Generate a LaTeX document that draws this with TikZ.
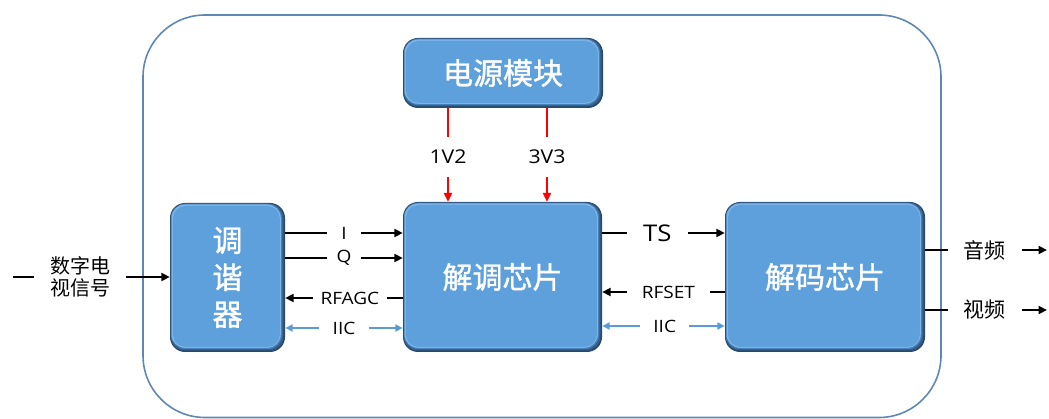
\documentclass[tikz,border=0pt]{standalone}
\usepackage{fontspec}
\newfontfamily\cjk{Noto Sans CJK SC}
\newfontfamily\cjkbox[FakeBold=1.2]{Noto Sans CJK SC}
\newfontfamily\lab[FakeStretch=1.12]{Open Sans}
\usetikzlibrary{arrows.meta}

\definecolor{boxblue}{HTML}{5DA0DC}
\definecolor{bevelA}{HTML}{28496B}
\definecolor{bevelB}{HTML}{365F8A}
\definecolor{bevelC}{HTML}{4880B8}
\definecolor{bevelRim}{HTML}{7CB4E6}
\definecolor{framec}{HTML}{5E88B4}
\definecolor{iicblue}{HTML}{5B9BD5}
\definecolor{pwrred}{HTML}{FF0000}

% inset rounded layer inside a block: #1 nw shift, #2 se shift, #3 radius, #4 colour
\newcommand\bevellayer[4]{%
  \fill[#4, rounded corners=#3]
    ([shift={(#1pt,-#1pt)}]path picture bounding box.north west) rectangle
    ([shift={(-#2pt,#2pt)}]path picture bounding box.south east);}

\tikzset{
  x=1pt, y=-1pt,
  frame/.style={draw=framec, line width=1.6pt, rounded corners=62pt},
  block/.style={rounded corners=15pt, fill=bevelA,
    text=white, align=center, inner sep=0pt,
    font=\cjkbox\fontsize{30}{37}\selectfont,
    path picture={
      \bevellayer{0.5}{1.5}{14.5pt}{bevelB}
      \bevellayer{1}{3}{14pt}{bevelC}
      \bevellayer{1.5}{4.2}{13.5pt}{bevelRim}
      \bevellayer{3}{5.2}{12.5pt}{boxblue}
    }},
  sig/.style={draw=black, line width=2.6pt, -{Triangle[length=8.5pt,width=8pt]}},
  pwr/.style={draw=pwrred, line width=2.8pt, -{Triangle[length=9pt,width=8pt]}},
  iic/.style={draw=iicblue, line width=2.4pt,
    {Triangle[length=7.5pt,width=7pt]}-{Triangle[length=7.5pt,width=7pt]}},
  lbl/.style={fill=white, inner xsep=12pt, inner ysep=1pt,
    font=\lab\fontsize{17}{17}\selectfont},
  vlbl/.style={fill=white, inner xsep=1pt, inner ysep=13pt,
    font=\lab\fontsize{19}{19}\selectfont},
  cjklbl/.style={fill=white, inner xsep=16pt, inner ysep=1pt, align=center,
    font=\cjk\fontsize{20}{22}\selectfont},
}

\begin{document}
\begin{tikzpicture}
\useasboundingbox (0,0) rectangle (1049,419);

% enclosing outline of the receiver board
\draw[frame] (143,15) rectangle (941,417.5);

% functional blocks
\node[block, minimum width=200pt, minimum height=70pt] (power) at (503,73) {电源模块};
\node[block, minimum width=115pt, minimum height=149pt] (tuner) at (227.5,277.5) {调\\谐\\器};
\node[block, minimum width=199pt, minimum height=150pt] (demod) at (502.5,277) {解调芯片};
\node[block, minimum width=200pt, minimum height=150pt] (decoder) at (825,277) {解码芯片};

% rows used by the signal lines
\coordinate (rI) at (0,233);
\coordinate (rQ) at (0,258);
\coordinate (rAGC) at (0,298);
\coordinate (rIICa) at (0,328);
\coordinate (rTS) at (0,233);
\coordinate (rSET) at (0,292);
\coordinate (rIICb) at (0,326);
\coordinate (rIn) at (0,277);
\coordinate (rAud) at (0,250);
\coordinate (rVid) at (0,310);
\coordinate (c1V2) at (448,0);
\coordinate (c3V3) at (547,0);

% input and outputs
\coordinate (src) at (13,277);
\coordinate (audOut) at (1047,250);
\coordinate (vidOut) at (1047,310);

% antenna input to the tuner
\draw[sig] (src) -- (tuner.west |- rIn)
  node[cjklbl, pos=0.43] {数字电\\视信号};

% tuner <-> demodulator
\draw[sig] (tuner.east |- rI) -- (demod.west |- rI)
  node[lbl, pos=0.5, inner xsep=14pt] {I};
\draw[sig] (tuner.east |- rQ) -- (demod.west |- rQ)
  node[lbl, pos=0.5, inner xsep=10pt] {Q};
\draw[sig] (demod.west |- rAGC) -- (tuner.east |- rAGC)
  node[lbl, pos=0.45, inner xsep=8pt] {RFAGC};
\draw[iic] (tuner.east |- rIICa) -- (demod.west |- rIICa)
  node[lbl, pos=0.5, inner xsep=14pt] {IIC};

% supply rails
\draw[pwr] (power.south -| c1V2) -- (demod.north -| c1V2)
  node[vlbl, pos=0.52] {1V2};
\draw[pwr] (power.south -| c3V3) -- (demod.north -| c3V3)
  node[vlbl, pos=0.52] {3V3};

% demodulator <-> decoder
\draw[sig] (demod.east |- rTS) -- (decoder.west |- rTS)
  node[lbl, pos=0.45, inner xsep=16pt, font=\lab\fontsize{23}{23}\selectfont] {TS};
\draw[sig] (decoder.west |- rSET) -- (demod.east |- rSET)
  node[lbl, pos=0.46, inner xsep=15pt] {RFSET};
\draw[iic] (demod.east |- rIICb) -- (decoder.west |- rIICb)
  node[lbl, pos=0.51, inner xsep=13pt] {IIC};

% decoder outputs
\draw[sig] (decoder.east |- rAud) -- (audOut)
  node[cjklbl, pos=0.49, font=\cjk\fontsize{21}{21}\selectfont] {音频};
\draw[sig] (decoder.east |- rVid) -- (vidOut)
  node[cjklbl, pos=0.49, font=\cjk\fontsize{21}{21}\selectfont] {视频};
\end{tikzpicture}
\end{document}
